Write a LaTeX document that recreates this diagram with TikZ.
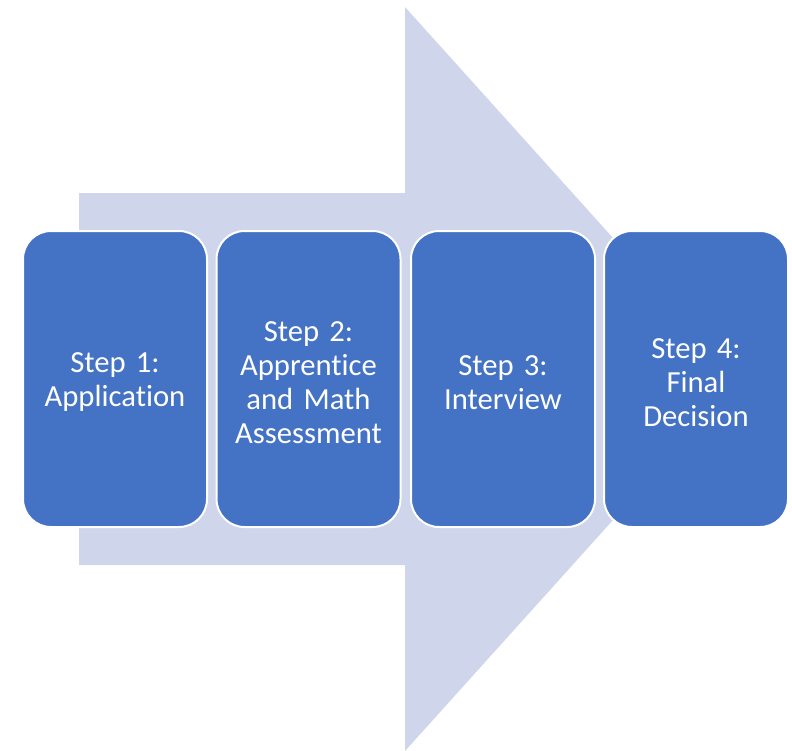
\documentclass[tikz,border=0pt]{standalone}
\usepackage{fontspec}
\setmainfont{Carlito}[Ligatures={NoCommon}, WordSpace=0.8]
\definecolor{boxblue}{HTML}{4472C4}
\definecolor{arrowfill}{HTML}{CFD5EA}
\newcommand{\topgap}{\rule{0pt}{20pt}}
\begin{document}
\begin{tikzpicture}[x=0.75pt,y=-0.75pt,
  stepbox/.style={draw=white, line width=1.5pt, fill=boxblue, rounded corners=21pt,
    minimum width=138pt, minimum height=222pt, text=white, align=center,
    font=\fontsize{23pt}{25.5pt}\selectfont, inner sep=0pt, text width=132pt},
  bigarrow/.style={fill=arrowfill, draw=none}]
\useasboundingbox (0,0) rectangle (792,750);
\fill[bigarrow] (79,193) -- (405,193) -- (405,7) -- (740,379) -- (405,751) -- (405,565) -- (79,565) -- cycle;
\node[stepbox] (s1) at (115,379) {\topgap Step 1:\\Application};
\node[stepbox] (s2) at (308.5,379) {\topgap Step 2:\\Apprentice\\and Math\\Assessment};
\node[stepbox] (s3) at (503,379) {\topgap Step 3:\\Interview};
\node[stepbox] (s4) at (696,379) {\topgap Step 4:\\Final\\Decision};
\end{tikzpicture}
\end{document}
